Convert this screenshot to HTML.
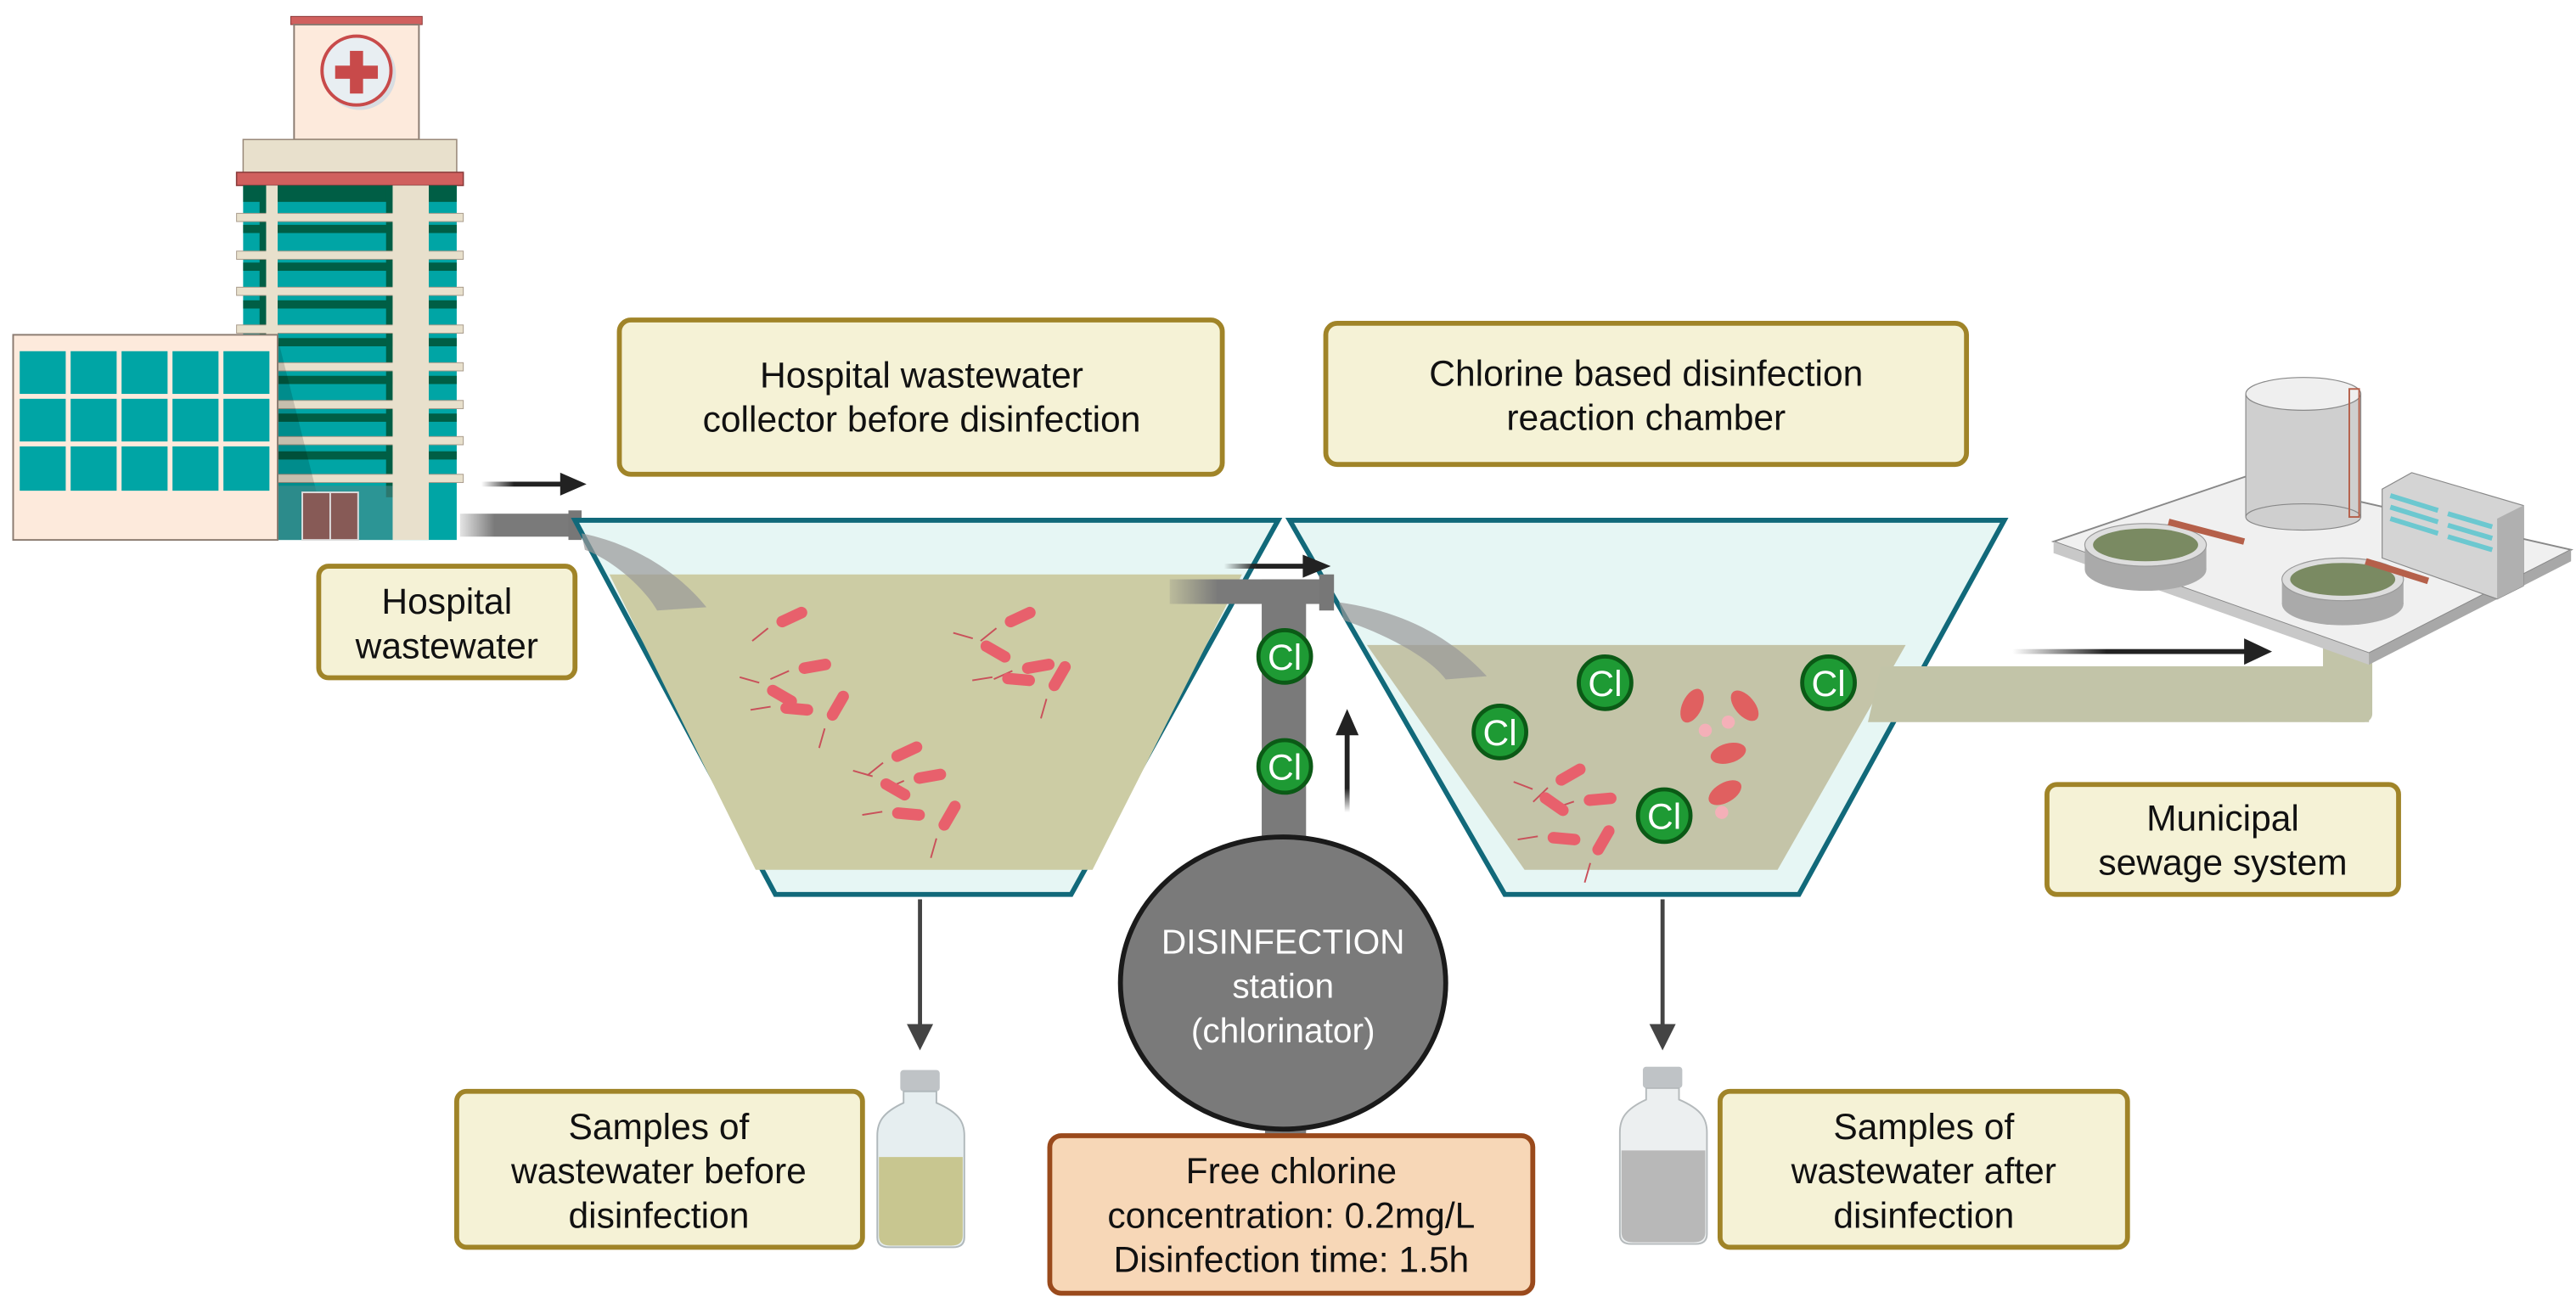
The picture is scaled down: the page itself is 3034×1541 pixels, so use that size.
<!DOCTYPE html>
<html><head><meta charset="utf-8"><style>
html,body{margin:0;padding:0;background:#fff}
svg{display:block}
text{font-family:"Liberation Sans",sans-serif}
</style></head><body>
<svg width="3034" height="1541" viewBox="0 0 1568 797" preserveAspectRatio="none" xmlns="http://www.w3.org/2000/svg">
<defs>
<linearGradient id="ag" x1="0" x2="1"><stop offset="0" stop-color="#222" stop-opacity="0"/><stop offset="0.4" stop-color="#222"/></linearGradient>
<linearGradient id="pg" x1="0" x2="1"><stop offset="0" stop-color="#7a7a7a" stop-opacity="0.2"/><stop offset="0.3" stop-color="#7a7a7a"/></linearGradient>
<linearGradient id="ug" x1="0" y1="1" x2="0" y2="0"><stop offset="0" stop-color="#222" stop-opacity="0"/><stop offset="0.3" stop-color="#222"/></linearGradient>
<g id="bac"><line x1="-16" y1="0" x2="-28" y2="3" stroke="#c9505a" stroke-width="1"/><rect x="-10" y="-3.5" width="20" height="7" rx="3.5" fill="#e8606c"/></g>
<g id="cl"><circle r="16" fill="#1e9a34" stroke="#0b5a16" stroke-width="2.5"/><text y="8" text-anchor="middle" font-size="22" fill="#fff">Cl</text></g>
</defs>

<!-- Hospital -->
<rect x="177" y="10" width="80" height="5" fill="#d0605e" stroke="#8a3a3a" stroke-width="0.5"/>
<rect x="179" y="15" width="76" height="70" fill="#fdeadc" stroke="#8a7a70" stroke-width="1"/>
<circle cx="219" cy="45" r="22" fill="#d8dde2"/>
<circle cx="217" cy="43" r="21" fill="#e8eef2" stroke="#c84a4a" stroke-width="2"/>
<rect x="213" y="31" width="8" height="26" fill="#c84a4a"/><rect x="204" y="40" width="26" height="8" fill="#c84a4a"/>
<rect x="148" y="85" width="130" height="21" fill="#e8e0cc" stroke="#9a8a7a" stroke-width="0.8"/>
<rect x="144" y="105" width="138" height="8" fill="#d0605e" stroke="#8a3a3a" stroke-width="0.8"/>
<rect x="148" y="113" width="130" height="216" fill="#00a5a5"/>
<g fill="#005e45">
<rect x="148" y="113" width="130" height="10"/><rect x="148" y="137" width="130" height="5"/><rect x="148" y="160" width="130" height="5"/><rect x="148" y="183" width="130" height="5"/><rect x="148" y="206" width="130" height="5"/><rect x="148" y="229" width="130" height="5"/><rect x="148" y="252" width="130" height="5"/><rect x="148" y="275" width="130" height="5"/>
<rect x="158" y="113" width="4" height="190"/><rect x="235" y="113" width="4" height="190"/>
</g>
<g fill="#e8e0cc" stroke="#a89a8a" stroke-width="0.5">
<rect x="144" y="130" width="138" height="5"/><rect x="144" y="153" width="138" height="5"/><rect x="144" y="175" width="138" height="5"/><rect x="144" y="198" width="138" height="5"/><rect x="144" y="221" width="138" height="5"/><rect x="144" y="244" width="138" height="5"/><rect x="144" y="266" width="138" height="5"/><rect x="144" y="289" width="138" height="5"/>
</g>
<rect x="162" y="113" width="7" height="216" fill="#e8e0cc"/>
<rect x="239" y="113" width="22" height="216" fill="#e8e0cc"/>
<polygon points="169,206 200,329 169,329" fill="#000" opacity="0.15"/>
<rect x="169" y="296" width="70" height="33" fill="#4a8a8a" opacity="0.6"/>
<rect x="184" y="300" width="34" height="29" fill="#875a56" stroke="#ddd" stroke-width="1"/>
<line x1="201" y1="300" x2="201" y2="329" stroke="#ddd" stroke-width="1"/>
<rect x="8" y="204" width="161" height="125" fill="#fdeadc" stroke="#8a7a70" stroke-width="1"/>
<g fill="#00a5a5">
<rect x="12" y="214" width="28" height="26"/><rect x="43" y="214" width="28" height="26"/><rect x="74" y="214" width="28" height="26"/><rect x="105" y="214" width="28" height="26"/><rect x="136" y="214" width="28" height="26"/>
<rect x="12" y="243" width="28" height="26"/><rect x="43" y="243" width="28" height="26"/><rect x="74" y="243" width="28" height="26"/><rect x="105" y="243" width="28" height="26"/><rect x="136" y="243" width="28" height="26"/>
<rect x="12" y="272" width="28" height="27"/><rect x="43" y="272" width="28" height="27"/><rect x="74" y="272" width="28" height="27"/><rect x="105" y="272" width="28" height="27"/><rect x="136" y="272" width="28" height="27"/>
</g>

<!-- arrow hospital -->
<rect x="293" y="293.5" width="50" height="3" fill="url(#ag)"/>
<polygon points="341,288 357,295 341,302" fill="#222"/>
<!-- pipe 1 -->
<rect x="280" y="313" width="70" height="14" fill="url(#pg)"/>
<rect x="346" y="311" width="8" height="18" fill="#777"/>

<!-- Tank 1 -->
<polygon points="350,317 778,317 652,545 472,545" fill="#e6f6f4" stroke="#11697a" stroke-width="3"/>
<polygon points="371,350 756,350 665,530 460,530" fill="#cccca4"/>
<path d="M354,325 C380,330 410,345 430,370 L400,372 C390,355 370,340 356,335 Z" fill="#999" opacity="0.7"/>
<use href="#bac" transform="translate(482,376) rotate(-25)"/>
<use href="#bac" transform="translate(496,406) rotate(-10)"/>
<use href="#bac" transform="translate(476,424) rotate(30)"/>
<use href="#bac" transform="translate(485,432) rotate(5)"/>
<use href="#bac" transform="translate(510,430) rotate(-60)"/>
<use href="#bac" transform="translate(621,376) rotate(-25)"/>
<use href="#bac" transform="translate(632,406) rotate(-10)"/>
<use href="#bac" transform="translate(606,397) rotate(30)"/>
<use href="#bac" transform="translate(620,414) rotate(5)"/>
<use href="#bac" transform="translate(645,412) rotate(-60)"/>
<use href="#bac" transform="translate(552,458) rotate(-25)"/>
<use href="#bac" transform="translate(566,473) rotate(-10)"/>
<use href="#bac" transform="translate(545,481) rotate(30)"/>
<use href="#bac" transform="translate(553,496) rotate(5)"/>
<use href="#bac" transform="translate(578,497) rotate(-60)"/>

<!-- Tank 2 -->
<polygon points="785,317 1220,317 1095,545 916,545" fill="#e6f6f4" stroke="#11697a" stroke-width="3"/>
<polygon points="832,393 1160,393 1082,530 928,530" fill="#c4c4a8"/>
<path d="M815,367 C850,372 880,385 905,412 L880,414 C870,400 840,385 818,378 Z" fill="#999" opacity="0.7"/>
<!-- effluent pipe -->
<path d="M1145,406 L1442,406 L1442,395 L1442,440 L1137,440 Z" fill="#c2c4a8"/>
<rect x="1414" y="380" width="30" height="60" rx="5" fill="#c2c4a8"/>
<use href="#bac" transform="translate(956,472) rotate(-30)"/>
<use href="#bac" transform="translate(974,487) rotate(-5)"/>
<use href="#bac" transform="translate(946,490) rotate(35)"/>
<use href="#bac" transform="translate(952,511) rotate(5)"/>
<use href="#bac" transform="translate(976,512) rotate(-60)"/>
<g fill="#e06060">
<ellipse cx="1030" cy="430" rx="6" ry="11" transform="rotate(25 1030 430)"/>
<ellipse cx="1062" cy="430" rx="6" ry="11" transform="rotate(-40 1062 430)"/>
<ellipse cx="1052" cy="459" rx="11" ry="6" transform="rotate(-15 1052 459)"/>
<ellipse cx="1050" cy="483" rx="11" ry="6" transform="rotate(-30 1050 483)"/>
</g>
<g fill="#f4b0b8"><circle cx="1038" cy="445" r="4"/><circle cx="1052" cy="440" r="4"/><circle cx="1048" cy="495" r="4"/></g>
<use href="#cl" transform="translate(913,446)"/>
<use href="#cl" transform="translate(977,416)"/>
<use href="#cl" transform="translate(1113,416)"/>
<use href="#cl" transform="translate(1013,497)"/>

<!-- pipe between -->
<rect x="712" y="353" width="98" height="15" fill="url(#pg)"/>
<rect x="803" y="350" width="9" height="22" fill="#777"/>
<rect x="768" y="353" width="27" height="170" fill="#7a7a7a"/>
<rect x="745" y="343.5" width="50" height="3" fill="url(#ag)"/>
<polygon points="793,338 810,345 793,352" fill="#222"/>
<use href="#cl" transform="translate(782,400)"/>
<use href="#cl" transform="translate(782,467)"/>
<rect x="818.5" y="446" width="3" height="49" fill="url(#ug)"/>
<polygon points="813,448 820,432 827,448" fill="#222"/>

<!-- station -->
<rect x="770" y="680" width="25" height="14" fill="#7a7a7a"/>
<ellipse cx="781" cy="599" rx="99" ry="89" fill="#7a7a7a" stroke="#1a1a1a" stroke-width="3"/>
<text x="781" y="581" text-anchor="middle" font-size="21" fill="#fff">DISINFECTION</text>
<text x="781" y="608" text-anchor="middle" font-size="21" fill="#fff">station</text>
<text x="781" y="635" text-anchor="middle" font-size="21" fill="#fff">(chlorinator)</text>

<!-- labels -->
<g font-size="22" fill="#111" text-anchor="middle">
<rect x="377" y="195" width="367" height="94" rx="7" fill="#f5f2d6" stroke="#a08428" stroke-width="3"/>
<text x="561" y="236">Hospital wastewater</text><text x="561" y="263">collector before disinfection</text>
<rect x="194" y="345" width="156" height="68" rx="6" fill="#f5f2d6" stroke="#a08428" stroke-width="3"/>
<text x="272" y="374">Hospital</text><text x="272" y="401">wastewater</text>
<rect x="807" y="197" width="390" height="86" rx="7" fill="#f5f2d6" stroke="#a08428" stroke-width="3"/>
<text x="1002" y="235">Chlorine based disinfection</text><text x="1002" y="262">reaction chamber</text>
<rect x="1246" y="478" width="214" height="67" rx="6" fill="#f5f2d6" stroke="#a08428" stroke-width="3"/>
<text x="1353" y="506">Municipal</text><text x="1353" y="533">sewage system</text>
<rect x="278" y="665" width="247" height="95" rx="6" fill="#f5f2d6" stroke="#a08428" stroke-width="3"/>
<text x="401" y="694">Samples of</text><text x="401" y="721">wastewater before</text><text x="401" y="748">disinfection</text>
<rect x="1047" y="665" width="248" height="95" rx="6" fill="#f5f2d6" stroke="#a08428" stroke-width="3"/>
<text x="1171" y="694">Samples of</text><text x="1171" y="721">wastewater after</text><text x="1171" y="748">disinfection</text>
<rect x="639" y="692" width="294" height="96" rx="7" fill="#f7d7b7" stroke="#9a4a1c" stroke-width="3"/>
<text x="786" y="721">Free chlorine</text><text x="786" y="748">concentration: 0.2mg/L</text><text x="786" y="775">Disinfection time: 1.5h</text>
</g>

<!-- down arrows -->
<line x1="560" y1="548" x2="560" y2="625" stroke="#444" stroke-width="2.5"/>
<polygon points="552,624 560,640 568,624" fill="#444"/>
<line x1="1012" y1="548" x2="1012" y2="625" stroke="#444" stroke-width="2.5"/>
<polygon points="1004,624 1012,640 1020,624" fill="#444"/>

<!-- vials -->
<g>
<rect x="548" y="652" width="24" height="13" rx="2" fill="#bfc3c6"/>
<path d="M550,665 L570,665 L570,672 C584,678 587,684 587,692 L587,754 Q587,760 580,760 L541,760 Q534,760 534,754 L534,692 C534,684 537,678 550,672 Z" fill="#e6eef0" stroke="#b0b8bb" stroke-width="1"/>
<path d="M535,705 L586,705 L586,753 Q586,759 579,759 L542,759 Q535,759 535,753 Z" fill="#c8c690"/>
</g>
<g>
<rect x="1000" y="650" width="24" height="13" rx="2" fill="#bfc3c6"/>
<path d="M1002,663 L1022,663 L1022,670 C1036,676 1039,682 1039,690 L1039,752 Q1039,758 1032,758 L993,758 Q986,758 986,752 L986,690 C986,682 989,676 1002,670 Z" fill="#eceff0" stroke="#b5babc" stroke-width="1"/>
<path d="M987,701 L1038,701 L1038,751 Q1038,757 1031,757 L994,757 Q987,757 987,751 Z" fill="#b8b8b8"/>
</g>

<!-- arrow to plant -->
<rect x="1225" y="395.5" width="143" height="3" fill="url(#ag)"/>
<polygon points="1366,389 1383,397 1366,405" fill="#222"/>

<!-- plant -->
<polygon points="1250,330 1368,290 1565,335 1442,398" fill="#f0f0f0" stroke="#888" stroke-width="1"/>
<polygon points="1250,330 1442,398 1442,405 1250,337" fill="#c8c8c8"/>
<polygon points="1442,398 1565,335 1565,342 1442,405" fill="#a8a8a8"/>
<rect x="1367" y="240" width="70" height="75" fill="#cfcfcf" stroke="#888" stroke-width="0.6"/>
<ellipse cx="1402" cy="315" rx="35" ry="8" fill="#cfcfcf" stroke="#888" stroke-width="0.6"/>
<ellipse cx="1402" cy="240" rx="35" ry="10" fill="#efefef" stroke="#888" stroke-width="0.6"/>
<rect x="1430" y="237" width="6" height="78" fill="none" stroke="#b5604a" stroke-width="1"/>
<polygon points="1450,298 1450,340 1520,365 1536,357 1536,308 1468,288" fill="#d4d4d4" stroke="#888" stroke-width="0.6"/>
<polygon points="1520,316 1536,308 1536,357 1520,365" fill="#b0b0b0"/>
<g stroke="#6cc8d0" stroke-width="3"><line x1="1455" y1="302" x2="1484" y2="311"/><line x1="1455" y1="309" x2="1484" y2="318"/><line x1="1455" y1="316" x2="1484" y2="325"/><line x1="1490" y1="313" x2="1517" y2="321"/><line x1="1490" y1="320" x2="1517" y2="328"/><line x1="1490" y1="327" x2="1517" y2="335"/></g>
<ellipse cx="1306" cy="347" rx="37" ry="13" fill="#aaa"/>
<rect x="1269" y="332" width="74" height="15" fill="#aaa"/>
<ellipse cx="1306" cy="332" rx="37" ry="13" fill="#ddd" stroke="#999" stroke-width="0.6"/>
<ellipse cx="1306" cy="332" rx="32" ry="10" fill="#7a8a62"/>
<line x1="1320" y1="318" x2="1366" y2="330" stroke="#b5604a" stroke-width="4"/>
<ellipse cx="1426" cy="368" rx="37" ry="13" fill="#aaa"/>
<rect x="1389" y="353" width="74" height="15" fill="#aaa"/>
<ellipse cx="1426" cy="353" rx="37" ry="13" fill="#ddd" stroke="#999" stroke-width="0.6"/>
<ellipse cx="1426" cy="353" rx="32" ry="10" fill="#7a8a62"/>
<line x1="1440" y1="342" x2="1478" y2="354" stroke="#b5604a" stroke-width="4"/>
</svg>
</body></html>
